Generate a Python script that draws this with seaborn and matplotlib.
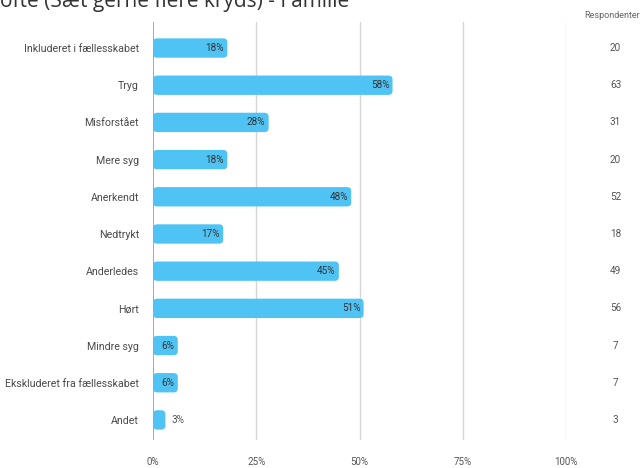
import matplotlib
matplotlib.use("Agg")
import matplotlib.pyplot as plt
import seaborn as sns
import pandas as pd
from matplotlib.patches import FancyBboxPatch

categories = ["Inkluderet i fællesskabet", "Tryg", "Misforstået", "Mere syg", "Anerkendt",
              "Nedtrykt", "Anderledes", "Hørt", "Mindre syg", "Ekskluderet fra fællesskabet", "Andet"]
percent = [18, 58, 28, 18, 48, 17, 45, 51, 6, 6, 3]
respondents = [20, 63, 31, 20, 52, 18, 49, 56, 7, 7, 3]
x_ticks = [0, 25, 50, 75, 100]
x_ticklabels = ["0%", "25%", "50%", "75%", "100%"]
title = "ofte (Sæt gerne flere kryds) - Familie"

df = pd.DataFrame({"cat": categories, "pct": percent, "n": respondents})

sns.set_theme(style="white")
plt.rcParams["font.family"] = ["Roboto", "DejaVu Sans"]

fig = plt.figure(figsize=(6.44, 4.68), dpi=100)
ax = fig.add_axes([153/644, 1-440/468, (566-153)/644, (440-22)/468])

bar_color = "#4FC3F3"
sns.barplot(data=df, x="pct", y="cat", color=bar_color, saturation=1, width=0.52, ax=ax, orient="h")

# rounded bars built from the library's bar geometry
for p in list(ax.patches):
    x0, y0, w, h = p.get_x(), p.get_y(), p.get_width(), p.get_height()
    fb = FancyBboxPatch((x0, y0), w, h, boxstyle="round,pad=0,rounding_size=1.0",
                        mutation_aspect=0.11, facecolor=bar_color, edgecolor="none", zorder=3)
    p.remove()
    ax.add_patch(fb)

ax.set_xlim(0, 100)
ax.set_ylim(10.54, -0.7)
ax.set_xticks(x_ticks)
ax.set_xticklabels(x_ticklabels)
ax.set_xlabel("")
ax.set_ylabel("")
for s in ax.spines.values():
    s.set_visible(False)
for xv in x_ticks:
    ax.axvline(xv, color="#999999" if xv == 0 else "#d6d6d6", lw=1.2 if xv == 0 else 1.0, zorder=1)
ax.tick_params(axis="x", length=0, pad=12, labelsize=7, labelcolor="#555555")
ax.tick_params(axis="y", length=0, pad=10, labelsize=7.7, labelcolor="#4a4a4a")

for i, (v, n) in enumerate(zip(percent, respondents)):
    if v >= 5:
        ax.text(v - 0.8, i, f"{v}%", ha="right", va="center", fontsize=7.2, color="#333333", zorder=4)
    else:
        ax.text(v + 1.5, i, f"{v}%", ha="left", va="center", fontsize=7.2, color="#555555", zorder=4)
    ax.text(1.12, i, str(n), transform=ax.get_yaxis_transform(), ha="center", va="center",
            fontsize=7.2, color="#555555")

fig.text(612/644, 1-16/468, "Respondenter", ha="center", va="center", fontsize=6.5, color="#666666")
fig.text(0.0, 1-2/468, title, ha="left", va="center", fontsize=15, color="#333333",
         family=["Open Sans", "DejaVu Sans"])

fig.savefig("out.png", dpi=100, facecolor="white")
